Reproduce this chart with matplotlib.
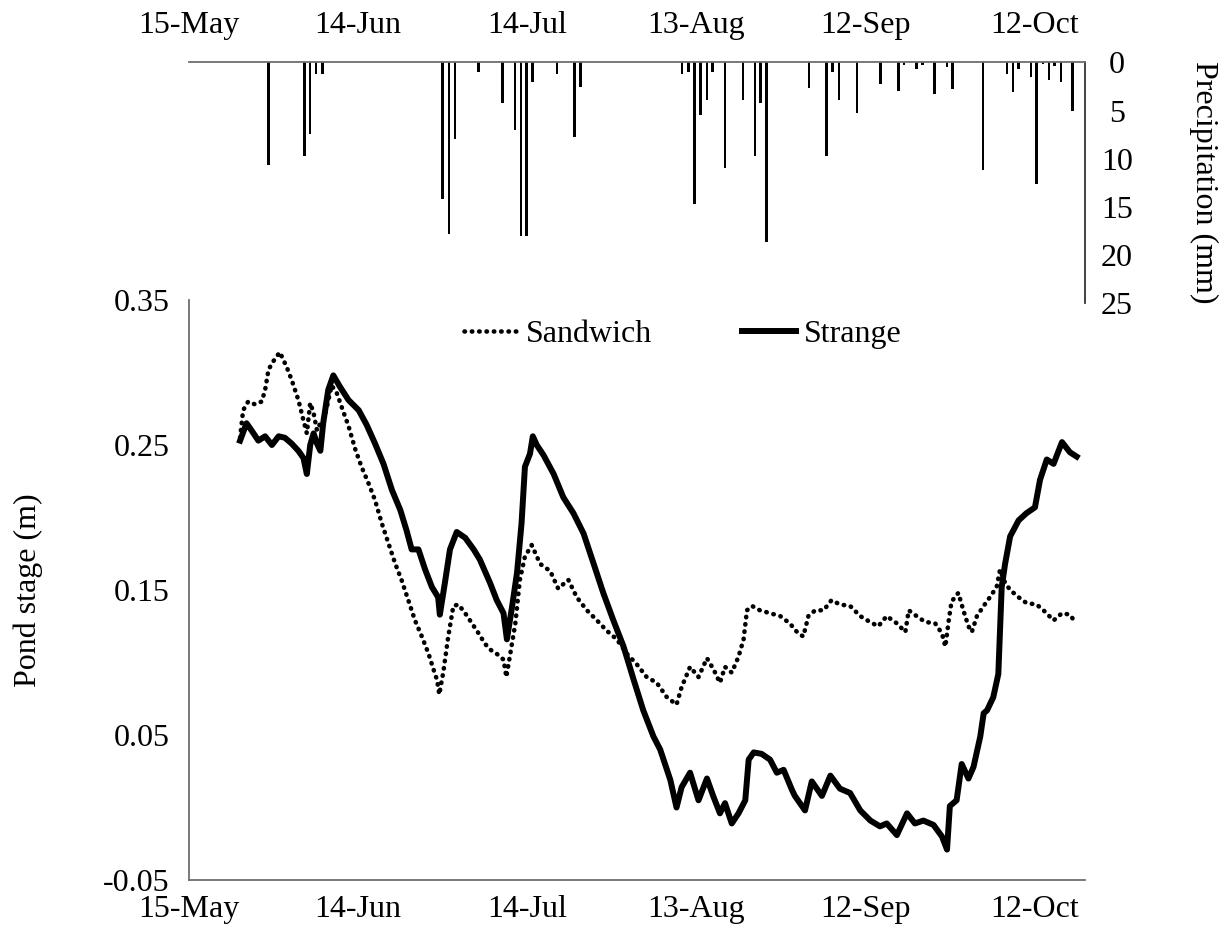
import matplotlib
matplotlib.use("Agg")
import matplotlib.pyplot as plt

plt.rcParams['font.family'] = ['Liberation Serif', 'DejaVu Serif']

# ---- data (day offsets from 15-May) ----
tick_days = [0, 30, 60, 90, 120, 150]
tick_labels = ["15-May", "14-Jun", "14-Jul", "13-Aug", "12-Sep", "12-Oct"]
stage_ticks = [-0.05, 0.05, 0.15, 0.25, 0.35]
precip_ticks = [0, 5, 10, 15, 20, 25]

precip_day = [14.1, 20.5, 21.5, 22.5, 23.7, 45.0, 46.1, 47.2, 51.4, 55.6,
              57.8, 58.9, 59.9, 60.9, 65.3, 68.4, 69.5, 87.5, 88.6, 89.7,
              90.8, 91.9, 92.9, 95.1, 98.3, 100.4, 101.4, 102.5, 110.0, 113.1,
              114.2, 115.3, 118.5, 122.7, 125.9, 126.9, 129.1, 130.1, 132.3, 134.5,
              135.5, 140.9, 145.1, 146.2, 147.2, 149.4, 150.4, 151.5, 152.6, 153.6,
              154.7, 156.8]
precip_mm = [10.7, 9.7, 7.4, 1.2, 1.2, 14.2, 17.8, 8.0, 1.0, 4.2,
             7.0, 18.0, 18.0, 2.0, 1.2, 7.7, 2.5, 1.2, 1.0, 14.7,
             5.5, 3.9, 1.0, 11.0, 3.9, 9.7, 4.2, 18.7, 2.7, 9.7,
             1.0, 3.9, 5.2, 2.2, 3.0, 0.3, 0.7, 0.3, 3.3, 0.5,
             2.8, 11.2, 1.2, 3.1, 0.7, 1.5, 12.6, 0.2, 1.8, 0.4,
             2.0, 5.0]

strange_day = [9.05, 10.2, 11.1, 12.3, 13.5, 14.7, 15.9, 17.0, 18.2, 19.4,
               20.3, 20.9, 21.5, 22.1, 22.7, 23.3, 23.8, 24.7, 25.6, 26.8,
               28.3, 30.1, 31.5, 33.0, 34.5, 36.0, 37.5, 38.6, 39.5, 40.7,
               41.9, 43.1, 44.2, 44.5, 45.4, 46.3, 47.5, 49.0, 50.5, 51.6,
               53.4, 54.6, 55.8, 56.4, 57.3, 58.2, 59.0, 59.6, 60.5, 61.0,
               61.7, 62.9, 64.7, 66.4, 68.2, 70.0, 71.8, 73.5, 75.3, 77.1,
               78.9, 80.6, 82.4, 83.6, 85.4, 86.5, 87.4, 88.9, 90.4, 91.9,
               93.0, 94.2, 95.1, 96.3, 97.5, 98.7, 99.3, 100.2, 101.6, 103.1,
               104.3, 105.5, 107.0, 107.5, 109.3, 110.5, 112.3, 113.8, 115.5, 117.3,
               119.1, 120.9, 122.6, 123.8, 125.6, 127.4, 128.8, 130.3, 132.1, 133.6,
               134.5, 135.0, 136.2, 137.1, 138.3, 139.2, 140.4, 141.0, 141.6, 142.7,
               143.6, 144.2, 144.8, 145.7, 147.2, 148.6, 150.1, 151.0, 152.2, 153.4,
               154.9, 156.3, 157.5]
strange_m = [0.253, 0.265, 0.260, 0.253, 0.256, 0.250, 0.256, 0.255, 0.251, 0.246,
             0.241, 0.230, 0.250, 0.258, 0.251, 0.246, 0.265, 0.288, 0.298, 0.290,
             0.281, 0.274, 0.264, 0.251, 0.237, 0.219, 0.205, 0.191, 0.178, 0.178,
             0.164, 0.152, 0.145, 0.133, 0.155, 0.178, 0.190, 0.186, 0.178, 0.171,
             0.155, 0.143, 0.134, 0.116, 0.138, 0.162, 0.196, 0.235, 0.244, 0.256,
             0.250, 0.243, 0.230, 0.214, 0.203, 0.189, 0.168, 0.148, 0.129, 0.111,
             0.088, 0.067, 0.049, 0.040, 0.019, 0.000, 0.014, 0.024, 0.005, 0.020,
             0.008, -0.004, 0.003, -0.011, -0.004, 0.005, 0.033, 0.038, 0.037, 0.033,
             0.024, 0.026, 0.012, 0.008, -0.002, 0.018, 0.008, 0.022, 0.013, 0.010,
             -0.002, -0.009, -0.013, -0.011, -0.019, -0.004, -0.011, -0.009, -0.012, -0.020,
             -0.029, 0.001, 0.005, 0.030, 0.020, 0.028, 0.049, 0.065, 0.067, 0.076,
             0.092, 0.152, 0.168, 0.187, 0.198, 0.203, 0.207, 0.226, 0.240, 0.237,
             0.252, 0.245, 0.242]

sandwich_day = [9.05, 9.6, 10.5, 11.7, 12.9, 13.5, 14.1, 15.0, 16.1, 17.3,
                18.2, 19.4, 20.3, 20.9, 21.5, 22.1, 22.7, 23.3, 24.1, 25.3,
                26.2, 27.1, 28.3, 29.5, 30.6, 31.8, 33.0, 34.2, 35.4, 36.6,
                37.7, 38.9, 40.1, 41.3, 42.5, 43.4, 44.0, 44.4, 45.1, 46.0,
                46.9, 47.8, 49.0, 50.2, 51.4, 52.5, 53.4, 54.6, 55.8, 56.3,
                57.0, 57.9, 58.7, 59.6, 60.8, 62.3, 64.1, 65.5, 67.3, 68.8,
                70.6, 72.4, 74.1, 75.9, 77.7, 79.4, 81.2, 83.0, 84.8, 86.5,
                87.4, 88.9, 90.4, 91.9, 93.1, 94.2, 95.1, 96.3, 97.5, 98.4,
                99.0, 99.9, 101.3, 103.1, 104.9, 106.6, 108.1, 109.0, 109.9, 111.1,
                112.6, 114.0, 115.5, 117.3, 119.1, 120.8, 122.3, 123.8, 125.6, 127.1,
                127.7, 129.1, 130.6, 132.4, 133.6, 134.2, 134.8, 135.3, 136.5, 137.4,
                138.3, 138.9, 139.8, 141.0, 142.1, 143.3, 143.9, 144.8, 145.7, 147.2,
                148.6, 150.4, 151.9, 153.4, 154.9, 156.3, 157.4]
sandwich_m = [0.255, 0.274, 0.280, 0.278, 0.280, 0.288, 0.302, 0.308, 0.314, 0.304,
              0.295, 0.281, 0.267, 0.258, 0.279, 0.272, 0.260, 0.265, 0.270, 0.291,
              0.286, 0.276, 0.263, 0.247, 0.235, 0.224, 0.212, 0.196, 0.182, 0.168,
              0.157, 0.143, 0.129, 0.118, 0.106, 0.095, 0.088, 0.078, 0.093, 0.118,
              0.139, 0.140, 0.134, 0.127, 0.120, 0.113, 0.109, 0.106, 0.102, 0.090,
              0.106, 0.127, 0.157, 0.173, 0.181, 0.168, 0.163, 0.151, 0.157, 0.145,
              0.136, 0.129, 0.122, 0.116, 0.106, 0.099, 0.090, 0.086, 0.076, 0.071,
              0.083, 0.097, 0.090, 0.103, 0.095, 0.086, 0.097, 0.093, 0.104, 0.116,
              0.136, 0.139, 0.136, 0.134, 0.132, 0.127, 0.120, 0.118, 0.132, 0.136,
              0.136, 0.143, 0.140, 0.139, 0.132, 0.128, 0.125, 0.132, 0.127, 0.121,
              0.136, 0.132, 0.128, 0.127, 0.120, 0.111, 0.129, 0.142, 0.148, 0.136,
              0.125, 0.121, 0.132, 0.139, 0.145, 0.152, 0.164, 0.155, 0.150, 0.145,
              0.141, 0.140, 0.135, 0.129, 0.134, 0.133, 0.127]

FS = 23
axis_col = '#6e6e6e'

fig = plt.figure(figsize=(12.3, 9.41), dpi=100)

# ---- bottom: pond stage ----
ax = fig.add_axes([0.1537, 0.0648, 0.7285, 0.6164])
ax.set_facecolor('none')
ax.plot(sandwich_day, sandwich_m, color='black', lw=3.3,
        linestyle=(0, (0.1, 1.5)), dash_capstyle='round', label='Sandwich')
ax.plot(strange_day, strange_m, color='black', lw=4.3,
        solid_joinstyle='round', label='Strange')
ax.set_xlim(0, 159)
ax.set_ylim(-0.05, 0.35)
ax.set_xticks(tick_days)
ax.set_xticklabels(tick_labels)
ax.set_yticks(stage_ticks)
ax.set_yticklabels(["-0.05", "0.05", "0.15", "0.25", "0.35"])
ax.tick_params(axis='both', length=0, labelsize=FS)
ax.tick_params(axis='x', pad=11)
ax.tick_params(axis='y', pad=14)
for s in ['top', 'right']:
    ax.spines[s].set_visible(False)
for s in ['left', 'bottom']:
    ax.spines[s].set_color(axis_col)
    ax.spines[s].set_linewidth(1.3)
ax.set_ylabel("Pond stage (m)", fontsize=FS)
ax.yaxis.set_label_coords(-0.163, 0.5)

leg = ax.legend(loc='center', bbox_to_anchor=(0.551, 0.94), ncol=2,
                frameon=False, fontsize=FS, handlelength=1.7,
                handletextpad=0.25, columnspacing=2.8)

# ---- top: precipitation ----
ax2 = fig.add_axes([0.1537, 0.678, 0.7285, 0.2556])
ax2.set_facecolor('none')
ax2.bar(precip_day, precip_mm, width=0.45, color='black', align='center')
ax2.set_xlim(0, 159)
ax2.set_ylim(25, 0)
ax2.set_xticks(tick_days)
ax2.set_xticklabels(tick_labels)
ax2.xaxis.tick_top()
ax2.yaxis.tick_right()
ax2.set_yticks(precip_ticks)
ax2.tick_params(axis='both', length=0, labelsize=FS)
ax2.tick_params(axis='x', pad=16)
ax2.tick_params(axis='y', pad=23)
for lab in ax2.get_yticklabels():
    lab.set_horizontalalignment('center')
for s in ['left', 'bottom']:
    ax2.spines[s].set_visible(False)
ax2.spines['top'].set_color(axis_col)
ax2.spines['top'].set_linewidth(1.3)
ax2.spines['right'].set_color('#333333')
ax2.spines['right'].set_linewidth(1.3)
ax2.yaxis.set_label_position('right')
ax2.set_ylabel("Precipitation (mm)", fontsize=FS, rotation=270)
ax2.yaxis.set_label_coords(1.148, 0.5)

fig.savefig("out.png", dpi=100)
